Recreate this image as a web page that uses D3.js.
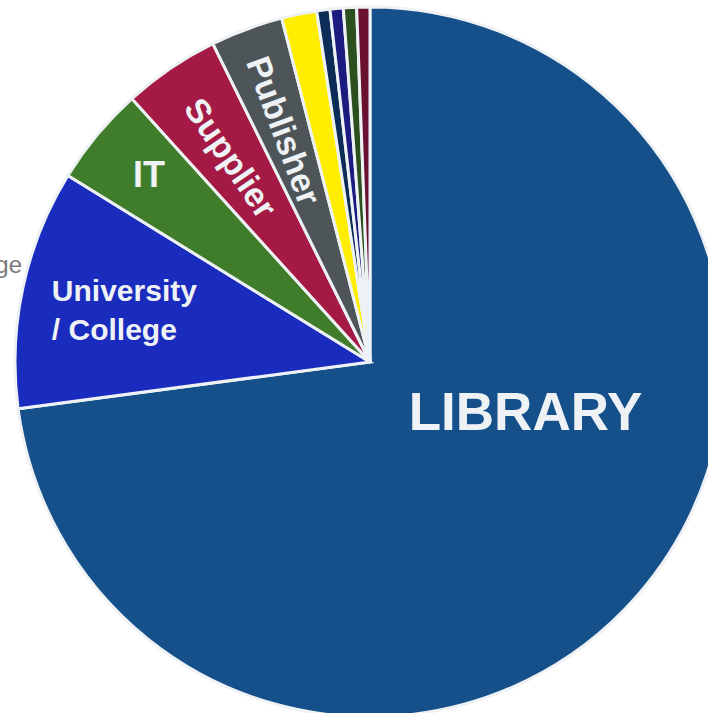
<!DOCTYPE html>
<html>
<head>
<meta charset="utf-8">
<script src="https://cdn.jsdelivr.net/npm/d3@7"></script>
<style>
  html, body { margin: 0; padding: 0; background: #ffffff; }
  svg { display: block; }
</style>
</head>
<body>
<svg id="chart" width="708" height="713"></svg>
<script>
// Share of respondents by sector (percent)
const categories = ["LIBRARY", "University / College", "IT", "Supplier", "Publisher",
                    "Consultant", "Government", "Museum", "Archive", "Other"];
const values = [72.9, 10.9, 4.5, 4.4, 3.3, 1.6, 0.6, 0.6, 0.6, 0.6];
const colors = ["#15508b", "#1a2cbe", "#3f7d2b", "#a51a44", "#4e5559",
                "#ffee00", "#0d2b57", "#1b1b80", "#2b4f1d", "#6a1030"];

const width = 708, height = 713;
const cx = 370, cy = 362, radius = 355;
const stroke = "#eef2f5";

const svg = d3.select("#chart");
const g = svg.append("g").attr("transform", `translate(${cx},${cy})`);

const pie = d3.pie().sort(null).value(d => d.value);
const arcs = pie(categories.map((c, i) => ({ name: c, value: values[i], color: colors[i] })));
const arc = d3.arc().innerRadius(0).outerRadius(radius);

g.selectAll("path.slice")
  .data(arcs)
  .join("path")
  .attr("class", "slice")
  .attr("d", arc)
  .attr("fill", d => d.data.color)
  .attr("stroke", stroke)
  .attr("stroke-width", 3)
  .attr("stroke-linejoin", "miter");

// polar helper: angle in radians clockwise from 12 o'clock
const polar = (a, r) => [r * Math.sin(a), -r * Math.cos(a)];
const mid = d => (d.startAngle + d.endAngle) / 2;
const deg = Math.PI / 180;

const labelFont = "'Liberation Sans', Arial, Helvetica, sans-serif";

// LIBRARY — sits lower-right of its own centroid
{
  const [x, y] = polar(107.4 * deg, 163);
  g.append("text")
    .attr("x", x).attr("y", y)
    .attr("text-anchor", "middle")
    .attr("dy", "0.36em")
    .attr("font-family", labelFont)
    .attr("font-weight", "bold")
    .attr("font-size", 53)
    .attr("fill", stroke)
    .text(categories[0]);
}

// University / College — two left-aligned lines centred in its slice
{
  const d = arcs[1];
  const [x, y] = polar(mid(d), 250);
  const t = g.append("text")
    .attr("font-family", labelFont)
    .attr("font-weight", "bold")
    .attr("font-size", 30)
    .attr("fill", stroke);
  const lines = ["University", "/ College"];
  lines.forEach((l, i) => t.append("tspan").attr("x", 0).attr("y", i * 39).text(l));
  const bb = t.node().getBBox();
  t.attr("transform", `translate(${x - bb.x - bb.width / 2 - 1},${y - bb.y - bb.height / 2})`);
}

// IT
{
  const d = arcs[2];
  const [x, y] = polar(mid(d) + 0.6 * deg, 290);
  g.append("text")
    .attr("x", x).attr("y", y)
    .attr("text-anchor", "middle")
    .attr("dy", "0.36em")
    .attr("font-family", labelFont)
    .attr("font-weight", "bold")
    .attr("font-size", 36)
    .attr("fill", stroke)
    .text(categories[2]);
}

// Supplier and Publisher — rotated along the slice bisector, reading inward
[3, 4].forEach(i => {
  const d = arcs[i];
  const a = mid(d);
  const [x, y] = polar(a, 247);
  const rot = a / deg - 270;
  g.append("text")
    .attr("transform", `translate(${x},${y}) rotate(${rot})`)
    .attr("text-anchor", "middle")
    .attr("dy", "0.36em")
    .attr("font-family", labelFont)
    .attr("font-weight", "bold")
    .attr("font-size", 34)
    .attr("fill", stroke)
    .text(categories[i]);
});

// outside label running off the left edge
svg.append("text")
  .attr("x", 22).attr("y", 273)
  .attr("text-anchor", "end")
  .attr("font-family", labelFont)
  .attr("font-size", 24)
  .attr("fill", "#7a7a7a")
  .text("College");
</script>
</body>
</html>
